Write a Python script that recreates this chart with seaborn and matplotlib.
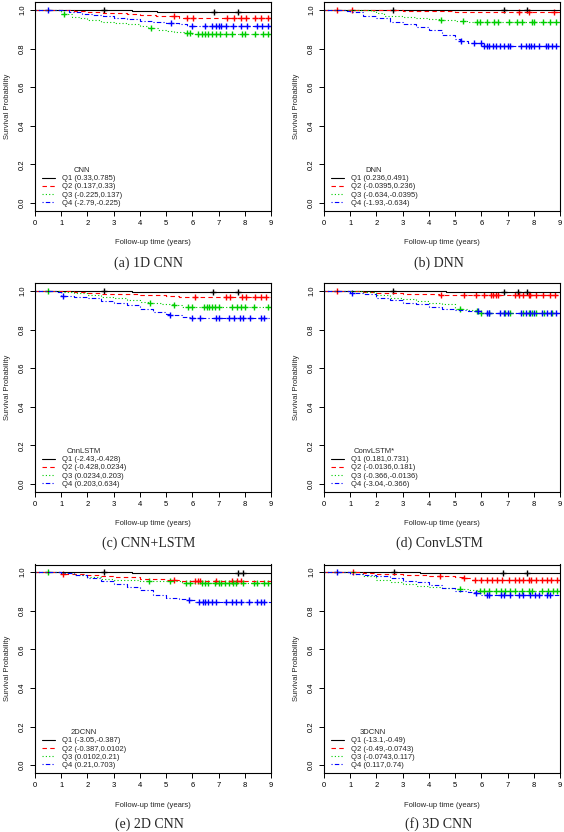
import numpy as np
import pandas as pd
import seaborn as sns
import matplotlib.pyplot as plt

# Kaplan-Meier curves per model: event times, survival after each event, censor times (Q1..Q4)
cnn_t = [[3.7, 4.65],
         [1.5, 2.0, 2.6, 3.0, 3.5, 4.0, 4.6, 5.5],
         [1.0, 1.4, 1.7, 2.0, 2.5, 3.0, 3.5, 4.0, 4.3, 4.7, 5.0, 5.3, 5.7, 6.0],
         [1.3, 1.8, 2.2, 2.6, 3.0, 3.5, 4.0, 4.5, 5.0, 5.5, 5.8]]
cnn_s = [[0.995, 0.99],
         [0.995, 0.99, 0.986, 0.983, 0.979, 0.974, 0.969, 0.957],
         [0.979, 0.965, 0.957, 0.948, 0.94, 0.934, 0.928, 0.917, 0.905, 0.897, 0.89, 0.886, 0.883, 0.878],
         [0.99, 0.98, 0.974, 0.968, 0.957, 0.952, 0.945, 0.94, 0.931, 0.926, 0.917]]
cnn_c = [[2.65, 6.82, 7.75],
         [5.31, 5.79, 6.02, 7.31, 7.57, 7.85, 8.04, 8.4, 8.61, 8.9],
         [1.1, 4.41, 5.81, 5.9, 6.2, 6.35, 6.5, 6.6, 6.75, 6.9, 7.05, 7.3, 7.5, 7.9, 8.0, 8.4, 8.7, 8.9],
         [0.51, 5.2, 6.0, 6.5, 6.75, 6.9, 7.0, 7.1, 7.3, 7.55, 7.85, 8.1, 8.45, 8.65, 8.9]]

dnn_t = [[],
         [3.0, 4.0, 5.0, 7.2],
         [1.8, 2.0, 2.3, 3.0, 3.5, 4.0, 4.4, 5.0, 5.5],
         [0.8, 1.0, 1.5, 2.0, 2.5, 3.0, 3.5, 4.0, 4.5, 5.0, 5.2, 5.5, 5.75, 6.0]]
dnn_s = [[],
         [0.997, 0.995, 0.99, 0.988],
         [0.993, 0.986, 0.969, 0.962, 0.957, 0.952, 0.948, 0.945, 0.938],
         [0.995, 0.99, 0.969, 0.957, 0.94, 0.928, 0.914, 0.897, 0.871, 0.848, 0.841, 0.831, 0.828, 0.814]]
dnn_c = [[2.65, 6.85, 7.75],
         [0.51, 1.08, 7.43, 7.81, 8.77],
         [4.45, 5.31, 5.85, 5.95, 6.2, 6.5, 6.65, 7.05, 7.35, 7.55, 7.95, 8.0, 8.35, 8.6, 8.85],
         [5.21, 5.72, 5.98, 6.1, 6.2, 6.3, 6.45, 6.55, 6.7, 6.85, 7.0, 7.1, 7.5, 7.7, 7.8, 7.9, 8.0, 8.2, 8.45, 8.55, 8.7, 8.85]]

cnnlstm_t = [[3.7, 4.65],
             [1.5, 2.0, 2.5, 3.0, 4.0, 5.0, 5.5, 6.0],
             [1.0, 1.5, 2.0, 2.5, 3.0, 3.5, 4.0, 4.35, 4.8, 5.25, 5.6, 5.8],
             [0.8, 1.0, 1.5, 2.0, 2.5, 3.0, 3.5, 4.0, 4.5, 5.0, 5.1, 5.6, 5.95]]
cnnlstm_s = [[0.995, 0.993],
             [0.995, 0.99, 0.987, 0.984, 0.978, 0.974, 0.971, 0.967],
             [0.995, 0.988, 0.979, 0.967, 0.962, 0.953, 0.945, 0.939, 0.931, 0.926, 0.919, 0.917],
             [0.995, 0.976, 0.967, 0.962, 0.948, 0.938, 0.928, 0.905, 0.893, 0.883, 0.876, 0.866, 0.86]]
cnnlstm_c = [[2.65, 6.8, 7.75],
             [6.1, 7.3, 7.45, 7.9, 8.05, 8.4, 8.6, 8.8],
             [0.51, 4.39, 5.3, 5.83, 6.0, 6.45, 6.55, 6.65, 6.75, 6.85, 7.0, 7.5, 7.7, 7.85, 8.0, 8.35, 8.9],
             [1.06, 5.15, 5.98, 6.3, 6.9, 7.0, 7.4, 7.6, 7.8, 7.95, 8.2, 8.6, 8.75]]

convlstm_t = [[4.66],
              [1.5, 2.0, 3.0, 4.4],
              [1.5, 2.0, 2.5, 3.0, 3.5, 4.0, 4.5, 5.0, 5.5, 5.8, 6.0],
              [1.0, 1.5, 2.0, 2.5, 3.0, 3.5, 4.0, 4.5, 5.0, 5.5, 6.0]]
convlstm_s = [[0.997],
              [0.995, 0.988, 0.984, 0.979],
              [0.993, 0.978, 0.966, 0.957, 0.948, 0.94, 0.931, 0.909, 0.902, 0.895, 0.888],
              [0.991, 0.983, 0.966, 0.953, 0.94, 0.931, 0.919, 0.909, 0.902, 0.897, 0.888]]
convlstm_c = [[2.65, 6.85, 7.4, 7.75],
              [0.51, 4.45, 5.35, 5.8, 6.1, 6.35, 6.45, 6.55, 6.65, 7.3, 7.45, 7.6, 7.8, 7.85, 8.1, 8.35, 8.6, 8.8],
              [5.2, 5.85, 6.0, 6.3, 6.9, 7.1, 7.6, 7.8, 7.95, 8.1, 8.4, 8.7],
              [1.08, 5.86, 6.2, 6.3, 6.7, 6.85, 7.0, 7.5, 7.7, 7.85, 8.0, 8.3, 8.5, 8.65, 8.85]]

cnn2d_t = [[3.7],
           [1.0, 2.0, 2.5, 3.0, 4.0, 4.5, 5.0, 5.5],
           [1.0, 1.5, 2.0, 2.5, 3.0, 4.0, 5.0, 5.6],
           [1.0, 1.5, 2.0, 2.5, 3.0, 3.5, 4.0, 4.5, 5.0, 5.5, 5.8, 6.1]]
cnn2d_s = [[0.995],
           [0.991, 0.986, 0.978, 0.974, 0.967, 0.964, 0.96, 0.955],
           [0.995, 0.986, 0.974, 0.964, 0.96, 0.957, 0.953, 0.946],
           [0.995, 0.986, 0.969, 0.952, 0.94, 0.926, 0.909, 0.883, 0.866, 0.861, 0.854, 0.848]]
cnn2d_c = [[2.65, 7.76, 7.93],
           [1.08, 5.3, 6.1, 6.2, 6.3, 6.9, 7.5, 7.7, 7.85],
           [0.51, 4.36, 5.15, 5.75, 5.9, 6.35, 6.5, 6.6, 6.85, 7.0, 7.1, 7.25, 7.4, 7.55, 7.65, 7.95, 8.35, 8.45, 8.75, 8.9],
           [5.89, 6.25, 6.4, 6.5, 6.6, 6.75, 6.9, 7.3, 7.5, 7.65, 7.85, 8.15, 8.45, 8.6, 8.75]]

cnn3d_t = [[3.68],
           [1.5, 2.0, 3.0, 4.0, 4.4, 5.0, 5.3, 5.6],
           [1.2, 1.5, 2.0, 2.5, 3.0, 3.5, 4.0, 4.5, 5.0, 5.5, 5.9],
           [1.0, 1.5, 2.0, 2.5, 3.0, 3.5, 4.0, 4.5, 5.0, 5.5, 5.75, 6.0]]
cnn3d_s = [[0.995],
           [0.995, 0.991, 0.986, 0.981, 0.978, 0.974, 0.969, 0.96],
           [0.99, 0.978, 0.96, 0.947, 0.94, 0.929, 0.923, 0.916, 0.912, 0.908, 0.902],
           [0.991, 0.986, 0.978, 0.969, 0.957, 0.947, 0.935, 0.917, 0.905, 0.898, 0.892, 0.883]]
cnn3d_c = [[2.66, 6.84, 7.76],
           [1.1, 4.44, 5.32, 5.75, 6.0, 6.2, 6.4, 6.6, 6.8, 7.05, 7.3, 7.45, 7.6, 7.8, 7.9, 8.1, 8.3, 8.5, 8.65, 8.9],
           [5.19, 5.95, 6.1, 6.3, 6.55, 6.75, 6.9, 7.1, 7.3, 7.55, 7.8, 7.95, 8.3, 8.55, 8.75, 8.9],
           [0.51, 5.8, 6.2, 6.3, 6.75, 6.85, 7.1, 7.45, 7.6, 7.85, 8.05, 8.2, 8.5, 8.6]]

titles = ["CNN", "DNN", "CnnLSTM", "ConvLSTM*", "2DCNN", "3DCNN"]
captions = ["(a) 1D CNN", "(b) DNN", "(c) CNN+LSTM", "(d) ConvLSTM", "(e) 2D CNN", "(f) 3D CNN"]
labels = [
    ["Q1 (0.33,0.785)", "Q2 (0.137,0.33)", "Q3 (-0.225,0.137)", "Q4 (-2.79,-0.225)"],
    ["Q1 (0.236,0.491)", "Q2 (-0.0395,0.236)", "Q3 (-0.634,-0.0395)", "Q4 (-1.93,-0.634)"],
    ["Q1 (-2.43,-0.428)", "Q2 (-0.428,0.0234)", "Q3 (0.0234,0.203)", "Q4 (0.203,0.634)"],
    ["Q1 (0.181,0.731)", "Q2 (-0.0136,0.181)", "Q3 (-0.366,-0.0136)", "Q4 (-3.04,-0.366)"],
    ["Q1 (-3.05,-0.387)", "Q2 (-0.387,0.0102)", "Q3 (0.0102,0.21)", "Q4 (0.21,0.703)"],
    ["Q1 (-13.1,-0.49)", "Q2 (-0.49,-0.0743)", "Q3 (-0.0743,0.117)", "Q4 (0.117,0.74)"],
]

colors = ["black", "#FF0000", "#00CD00", "#0000FF"]
styles = ["-", (0, (4, 3)), (0, (1, 2)), (0, (1, 2, 4, 2))]

sns.set_theme(style="ticks")
plt.rcParams["font.family"] = ["Liberation Sans", "DejaVu Sans"]
plt.rcParams.update({
    "axes.edgecolor": "black",
    "axes.linewidth": 0.8,
    "xtick.color": "black",
    "ytick.color": "black",
    "xtick.major.size": 3.5,
    "ytick.major.size": 3.5,
    "xtick.major.width": 0.7,
    "ytick.major.width": 0.7,
    "xtick.labelsize": 5.5,
    "ytick.labelsize": 5.5,
})

fig = plt.figure(figsize=(5.64, 8.32), dpi=100)
W, H = 564, 832
lefts = [35, 324]
bottoms = [210.8, 491.8, 773]
cap_x = [149, 439]
cap_y = [263, 543, 824]

panels = [(cnn_t, cnn_s, cnn_c), (dnn_t, dnn_s, dnn_c),
          (cnnlstm_t, cnnlstm_s, cnnlstm_c), (convlstm_t, convlstm_s, convlstm_c),
          (cnn2d_t, cnn2d_s, cnn2d_c), (cnn3d_t, cnn3d_s, cnn3d_c)]

for i, (ts, ss, cs) in enumerate(panels):
    row, col = divmod(i, 2)
    ax = fig.add_axes([lefts[col] / W, 1 - bottoms[row] / H, 236 / W, 208.5 / H])
    for q in range(4):
        t, s, c = ts[q], ss[q], cs[q]
        df = pd.DataFrame({"time": [0.0] + t + [9.0],
                           "surv": [1.0] + s + [s[-1] if s else 1.0]})
        sns.lineplot(data=df, x="time", y="surv", ax=ax, color=colors[q],
                     linestyle=styles[q], linewidth=0.8, drawstyle="steps-post",
                     estimator=None, sort=False, label=labels[i][q])
        # censor marks sit on the step curve
        cy = np.r_[1.0, s][np.searchsorted(t, c, side="right")]
        sns.scatterplot(x=c, y=cy, ax=ax, marker="+", color=colors[q],
                        s=16, linewidth=1.0, legend=False)
    ax.set_xlim(0, 9)
    ax.set_ylim(-0.04, 1.04)
    ax.set_xticks(range(10))
    ax.set_yticks([0, 0.2, 0.4, 0.6, 0.8, 1.0])
    ax.set_yticklabels(["0.0", "0.2", "0.4", "0.6", "0.8", "1.0"], rotation=90, va="center")
    ax.tick_params(axis="both", pad=3)
    ax.set_xlabel("Follow-up time (years)", fontsize=5.5, labelpad=9)
    ax.set_ylabel("Survival Probability", fontsize=5.5, labelpad=6)
    handles, _ = ax.get_legend_handles_labels()
    ax.legend(handles, labels[i], title=titles[i], loc="lower left",
              bbox_to_anchor=(0.028, 0.02), frameon=False, fontsize=5.5,
              title_fontsize=5.5, handlelength=1.75, handletextpad=0.9,
              labelspacing=0.1, borderpad=0, borderaxespad=0)
    fig.text(cap_x[col] / W, 1 - cap_y[row] / H, captions[i], ha="center", va="center",
             fontsize=10, family=["Liberation Serif", "DejaVu Serif"])

fig.savefig("out.png", dpi=100)
